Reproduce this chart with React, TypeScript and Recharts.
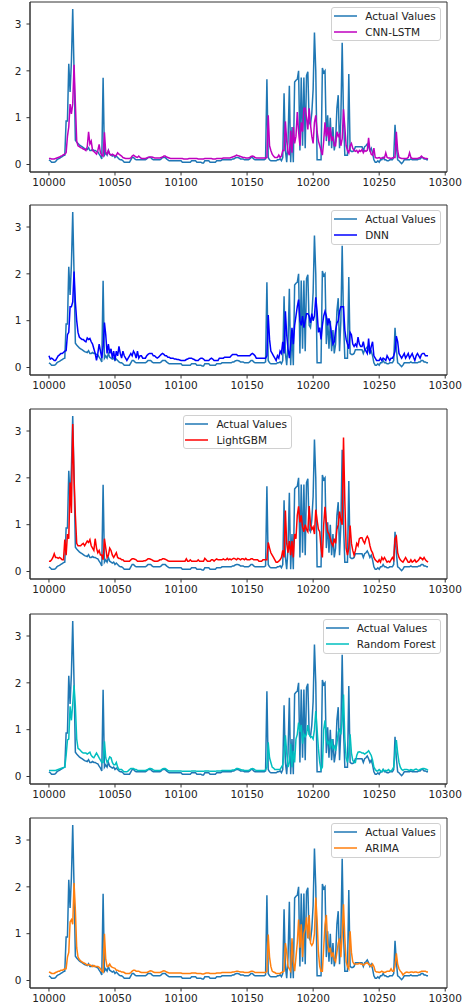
import React from 'react';
import { LineChart, Line, XAxis, YAxis, Legend, ReferenceArea } from 'recharts';

const START = 10000;
const X_TICKS = [10000, 10050, 10100, 10150, 10200, 10250, 10300];
const Y_TICKS = [0, 1, 2, 3];

const ACTUAL = [
  0.10, 0.08, 0.05, 0.05, 0.05, 0.06, 0.10, 0.12, 0.13, 0.15,
  0.17, 0.19, 0.20, 0.93, 0.93, 2.15, 1.55, 2.20, 3.32, 2.00,
  0.52, 0.48, 0.45, 0.42, 0.40, 0.38, 0.36, 0.34, 0.33, 0.32,
  0.36, 0.30, 0.30, 0.32, 0.30, 0.30, 0.28, 0.27, 0.22, 0.18,
  0.12, 1.85, 0.20, 0.25, 0.20, 0.30, 0.22, 0.20, 0.18, 0.20,
  0.15, 0.18, 0.15, 0.12, 0.10, 0.10, 0.08, 0.05, 0.05, 0.05,
  0.05, 0.05, 0.10, 0.15, 0.15, 0.12, 0.10, 0.10, 0.10, 0.10,
  0.10, 0.10, 0.10, 0.10, 0.12, 0.15, 0.15, 0.15, 0.12, 0.10,
  0.10, 0.10, 0.10, 0.10, 0.10, 0.12, 0.15, 0.15, 0.15, 0.12,
  0.10, 0.08, 0.08, 0.08, 0.08, 0.08, 0.08, 0.08, 0.08, 0.08,
  0.08, 0.05, 0.05, 0.05, 0.05, 0.05, 0.05, 0.05, 0.08, 0.08,
  0.08, 0.08, 0.05, 0.05, 0.05, 0.05, 0.03, 0.03, 0.08, 0.08,
  0.08, 0.08, 0.05, 0.05, 0.05, 0.05, 0.05, 0.08, 0.08, 0.08,
  0.08, 0.10, 0.10, 0.10, 0.10, 0.10, 0.10, 0.10, 0.10, 0.12,
  0.12, 0.14, 0.15, 0.15, 0.14, 0.12, 0.12, 0.12, 0.10, 0.10,
  0.10, 0.10, 0.12, 0.15, 0.15, 0.12, 0.10, 0.10, 0.10, 0.10,
  0.10, 0.10, 0.10, 0.10, 0.12, 1.82, 0.15, 0.10, 0.08, 0.08,
  0.08, 0.08, 0.08, 0.10, 0.10, 0.12, 0.08, 0.15, 1.52, 0.30,
  0.05, 0.50, 1.68, 0.05, 0.80, 0.05, 1.76, 1.80, 1.82, 2.00,
  0.30, 1.86, 0.40, 1.86, 0.35, 1.90, 1.98, 0.90, 0.85, 1.10,
  1.60, 2.82, 2.00, 0.10, 0.10, 0.10, 0.10, 2.06, 1.96, 2.00,
  0.50, 1.05, 0.40, 1.00, 0.35, 0.80, 0.30, 0.50, 1.20, 1.48,
  0.35, 1.00, 2.60, 1.00, 0.20, 0.20, 0.20, 1.93, 0.30, 0.28,
  0.28, 0.30, 0.38, 0.38, 0.38, 0.38, 0.38, 0.38, 0.30, 0.38,
  0.40, 0.44, 0.38, 0.30, 0.35, 0.25, 0.10, 0.05, 0.05, 0.08,
  0.05, 0.10, 0.10, 0.15, 0.10, 0.10, 0.08, 0.08, 0.10, 0.10,
  0.10, 0.15, 0.85, 0.40, 0.10, 0.08, 0.05, 0.02, 0.05, 0.10,
  0.10, 0.10, 0.10, 0.10, 0.12, 0.10, 0.10, 0.10, 0.10, 0.10,
  0.12, 0.12, 0.15, 0.15, 0.12, 0.12, 0.10, 0.10,
];

const CNN_LSTM = [
  0.13, 0.13, 0.12, 0.12, 0.12, 0.13, 0.14, 0.15, 0.16, 0.18,
  0.19, 0.21, 0.22, 0.25, 0.60, 0.80, 1.29, 1.08, 1.30, 2.13,
  1.30, 0.50, 0.40, 0.38, 0.36, 0.35, 0.33, 0.32, 0.30, 0.38,
  0.70, 0.44, 0.50, 0.30, 0.28, 0.25, 0.22, 0.30, 0.43, 0.25,
  0.20, 0.18, 0.69, 0.26, 0.22, 0.30, 0.22, 0.20, 0.22, 0.20,
  0.18, 0.20, 0.25, 0.22, 0.20, 0.18, 0.15, 0.14, 0.13, 0.13,
  0.13, 0.13, 0.14, 0.18, 0.20, 0.18, 0.16, 0.15, 0.18, 0.15,
  0.13, 0.13, 0.13, 0.13, 0.14, 0.15, 0.16, 0.16, 0.16, 0.15,
  0.14, 0.14, 0.14, 0.14, 0.14, 0.15, 0.16, 0.18, 0.18, 0.16,
  0.15, 0.14, 0.13, 0.13, 0.13, 0.13, 0.13, 0.13, 0.13, 0.13,
  0.13, 0.13, 0.12, 0.12, 0.12, 0.12, 0.13, 0.13, 0.13, 0.13,
  0.13, 0.13, 0.13, 0.12, 0.12, 0.12, 0.12, 0.12, 0.13, 0.13,
  0.13, 0.13, 0.13, 0.13, 0.12, 0.12, 0.12, 0.13, 0.13, 0.13,
  0.13, 0.13, 0.14, 0.14, 0.14, 0.14, 0.14, 0.14, 0.15, 0.16,
  0.17, 0.18, 0.20, 0.19, 0.18, 0.17, 0.16, 0.15, 0.15, 0.14,
  0.14, 0.14, 0.15, 0.17, 0.18, 0.17, 0.15, 0.14, 0.14, 0.14,
  0.14, 0.14, 0.14, 0.14, 0.14, 0.15, 1.05, 0.40, 0.30, 0.22,
  0.18, 0.15, 0.15, 0.15, 0.20, 0.15, 0.18, 0.30, 0.30, 0.92,
  0.50, 0.26, 0.20, 0.72, 0.25, 0.80, 0.45, 0.60, 1.12, 0.70,
  0.40, 0.90, 0.70, 1.20, 1.20, 1.00, 0.75, 1.20, 0.85, 0.60,
  0.45, 0.90, 1.05, 0.70, 0.50, 0.40, 0.30, 0.20, 0.50, 0.90,
  0.60, 0.80, 0.50, 0.80, 0.50, 0.60, 0.40, 0.40, 0.70, 0.60,
  0.65, 0.40, 0.55, 1.18, 0.80, 0.40, 0.30, 0.25, 0.40, 0.45,
  0.35, 0.30, 0.28, 0.30, 0.25, 0.30, 0.28, 0.32, 0.25, 0.30,
  0.28, 0.30, 0.57, 0.30, 0.22, 0.20, 0.35, 0.15, 0.14, 0.14,
  0.15, 0.13, 0.14, 0.15, 0.14, 0.25, 0.15, 0.14, 0.14, 0.13,
  0.14, 0.15, 0.15, 0.70, 0.30, 0.15, 0.14, 0.13, 0.13, 0.13,
  0.13, 0.13, 0.15, 0.25, 0.15, 0.13, 0.13, 0.13, 0.13, 0.13,
  0.14, 0.15, 0.18, 0.15, 0.14, 0.13, 0.13, 0.12,
];

const DNN = [
  0.25, 0.18, 0.20, 0.18, 0.15, 0.15, 0.20, 0.25, 0.27, 0.30,
  0.30, 0.32, 0.35, 0.36, 0.70, 0.75, 1.30, 1.30, 1.40, 2.05,
  1.40, 1.00, 0.75, 0.65, 0.62, 0.60, 0.60, 0.57, 0.55, 0.63,
  0.60, 0.62, 0.55, 0.50, 0.40, 0.30, 0.15, 0.30, 0.50, 0.35,
  0.20, 0.45, 0.96, 0.70, 0.30, 0.50, 0.30, 0.40, 0.20, 0.35,
  0.15, 0.35, 0.25, 0.45, 0.30, 0.20, 0.35, 0.25, 0.20, 0.15,
  0.20, 0.25, 0.30, 0.25, 0.35, 0.30, 0.20, 0.35, 0.20, 0.25,
  0.25, 0.20, 0.20, 0.20, 0.25, 0.28, 0.30, 0.30, 0.30, 0.25,
  0.25, 0.22, 0.20, 0.22, 0.25, 0.28, 0.30, 0.28, 0.25, 0.25,
  0.22, 0.22, 0.20, 0.20, 0.20, 0.18, 0.18, 0.17, 0.17, 0.16,
  0.15, 0.15, 0.15, 0.15, 0.17, 0.18, 0.20, 0.20, 0.20, 0.18,
  0.17, 0.15, 0.15, 0.15, 0.18, 0.20, 0.20, 0.18, 0.15, 0.15,
  0.15, 0.15, 0.18, 0.20, 0.18, 0.15, 0.15, 0.15, 0.15, 0.20,
  0.20, 0.20, 0.20, 0.22, 0.22, 0.22, 0.22, 0.22, 0.25, 0.28,
  0.28, 0.28, 0.28, 0.25, 0.25, 0.25, 0.25, 0.25, 0.25, 0.25,
  0.25, 0.25, 0.25, 0.28, 0.30, 0.28, 0.25, 0.20, 0.20, 0.20,
  0.20, 0.20, 0.20, 0.20, 0.20, 0.25, 1.12, 0.60, 0.35, 0.30,
  0.25, 0.20, 0.15, 0.25, 0.20, 0.35, 0.30, 0.55, 0.30, 1.20,
  0.70, 0.40, 0.20, 0.50, 0.85, 0.50, 0.90, 1.10, 1.30, 1.45,
  1.00, 0.90, 1.10, 0.85, 1.00, 1.15, 1.15, 1.10, 0.95, 1.15,
  1.00, 1.10, 1.50, 1.20, 0.75, 0.85, 0.60, 0.90, 1.10, 1.20,
  1.10, 0.90, 1.05, 0.90, 0.70, 0.50, 0.55, 0.80, 0.95, 1.00,
  1.20, 1.30, 1.30, 1.30, 0.80, 0.60, 0.50, 0.40, 0.75, 0.70,
  0.50, 0.45, 0.50, 0.45, 0.65, 0.50, 0.45, 0.45, 0.55, 0.40,
  0.35, 0.30, 0.62, 0.30, 0.45, 0.55, 0.25, 0.20, 0.15, 0.15,
  0.15, 0.20, 0.15, 0.20, 0.18, 0.15, 0.25, 0.20, 0.15, 0.20,
  0.20, 0.25, 0.35, 0.67, 0.55, 0.30, 0.25, 0.20, 0.25, 0.30,
  0.20, 0.25, 0.30, 0.20, 0.25, 0.30, 0.22, 0.15, 0.25, 0.30,
  0.25, 0.20, 0.28, 0.30, 0.30, 0.25, 0.25, 0.25,
];

const LIGHTGBM = [
  0.22, 0.22, 0.25, 0.30, 0.38, 0.30, 0.30, 0.28, 0.30, 0.28,
  0.25, 0.25, 0.68, 0.35, 0.80, 0.70, 1.90, 1.25, 3.15, 2.00,
  1.20, 0.60, 0.55, 0.55, 0.55, 0.58, 0.60, 0.55, 0.60, 0.65,
  0.62, 0.68, 0.55, 0.50, 0.45, 0.70, 0.50, 0.40, 0.45, 0.35,
  0.35, 0.25, 0.70, 0.50, 0.30, 0.35, 0.50, 0.45, 0.35, 0.30,
  0.35, 0.40, 0.30, 0.28, 0.28, 0.25, 0.25, 0.22, 0.22, 0.22,
  0.22, 0.22, 0.25, 0.27, 0.27, 0.26, 0.25, 0.22, 0.22, 0.22,
  0.22, 0.22, 0.23, 0.23, 0.25, 0.27, 0.27, 0.26, 0.25, 0.23,
  0.22, 0.22, 0.22, 0.23, 0.25, 0.25, 0.27, 0.27, 0.26, 0.25,
  0.23, 0.22, 0.22, 0.22, 0.22, 0.22, 0.22, 0.22, 0.22, 0.22,
  0.22, 0.22, 0.22, 0.22, 0.27, 0.22, 0.22, 0.25, 0.22, 0.22,
  0.22, 0.22, 0.22, 0.25, 0.22, 0.22, 0.22, 0.22, 0.28, 0.25,
  0.22, 0.22, 0.22, 0.25, 0.25, 0.22, 0.25, 0.27, 0.25, 0.25,
  0.25, 0.25, 0.27, 0.25, 0.25, 0.28, 0.25, 0.27, 0.25, 0.27,
  0.28, 0.27, 0.25, 0.28, 0.27, 0.25, 0.27, 0.27, 0.25, 0.28,
  0.25, 0.25, 0.25, 0.27, 0.27, 0.25, 0.25, 0.25, 0.25, 0.22,
  0.22, 0.22, 0.25, 0.25, 0.25, 0.25, 0.62, 0.50, 0.40, 0.35,
  0.30, 0.25, 0.20, 0.20, 0.22, 0.25, 0.30, 0.45, 0.30, 1.30,
  0.60, 0.40, 0.65, 0.35, 0.65, 0.30, 0.80, 0.70, 1.20, 1.39,
  1.05, 1.20, 0.95, 0.85, 1.00, 0.90, 0.85, 1.40, 1.00, 0.90,
  0.95, 0.80, 1.32, 1.10, 0.90, 0.85, 0.50, 0.30, 1.00, 1.38,
  1.05, 0.85, 0.80, 0.70, 0.60, 0.55, 0.70, 0.60, 0.90, 1.00,
  1.28, 1.10, 1.00, 2.86, 1.50, 0.50, 0.35, 0.50, 0.98, 0.60,
  0.45, 0.35, 0.45, 0.60, 0.55, 0.70, 0.72, 0.72, 0.65, 0.60,
  0.70, 0.75, 0.70, 0.55, 0.45, 0.40, 0.30, 0.25, 0.22, 0.20,
  0.25, 0.20, 0.30, 0.25, 0.30, 0.25, 0.20, 0.22, 0.20, 0.25,
  0.30, 0.25, 0.70, 0.75, 0.40, 0.30, 0.25, 0.22, 0.20, 0.25,
  0.30, 0.25, 0.20, 0.20, 0.25, 0.20, 0.22, 0.25, 0.20, 0.22,
  0.25, 0.30, 0.28, 0.25, 0.30, 0.25, 0.22, 0.20,
];

const RANDOM_FOREST = [
  0.13, 0.13, 0.13, 0.13, 0.13, 0.13, 0.14, 0.15, 0.16, 0.17,
  0.18, 0.19, 0.20, 0.45, 0.78, 0.80, 1.50, 1.20, 1.55, 1.95,
  1.50, 0.80, 0.60, 0.58, 0.55, 0.52, 0.50, 0.50, 0.50, 0.48,
  0.50, 0.52, 0.45, 0.42, 0.40, 0.45, 0.50, 0.45, 0.40, 0.35,
  0.30, 0.30, 0.75, 0.40, 0.30, 0.35, 0.42, 0.40, 0.30, 0.25,
  0.25, 0.30, 0.20, 0.15, 0.15, 0.15, 0.12, 0.10, 0.10, 0.10,
  0.12, 0.15, 0.17, 0.17, 0.17, 0.15, 0.15, 0.13, 0.13, 0.13,
  0.13, 0.13, 0.13, 0.13, 0.14, 0.15, 0.17, 0.17, 0.16, 0.14,
  0.13, 0.13, 0.13, 0.13, 0.13, 0.14, 0.16, 0.17, 0.17, 0.15,
  0.13, 0.12, 0.12, 0.12, 0.12, 0.12, 0.12, 0.12, 0.12, 0.12,
  0.12, 0.11, 0.11, 0.11, 0.11, 0.11, 0.11, 0.11, 0.12, 0.12,
  0.12, 0.12, 0.11, 0.11, 0.11, 0.11, 0.11, 0.11, 0.12, 0.12,
  0.12, 0.12, 0.11, 0.11, 0.11, 0.11, 0.11, 0.12, 0.12, 0.12,
  0.12, 0.13, 0.13, 0.13, 0.13, 0.13, 0.13, 0.13, 0.13, 0.14,
  0.14, 0.15, 0.17, 0.17, 0.16, 0.15, 0.14, 0.14, 0.13, 0.13,
  0.13, 0.13, 0.14, 0.16, 0.17, 0.16, 0.14, 0.13, 0.13, 0.13,
  0.13, 0.13, 0.13, 0.13, 0.14, 0.20, 0.73, 0.40, 0.30, 0.20,
  0.18, 0.15, 0.15, 0.15, 0.15, 0.15, 0.20, 0.25, 0.50, 0.88,
  0.50, 0.20, 0.30, 0.70, 0.20, 0.55, 0.30, 0.80, 0.90, 1.15,
  0.95, 1.10, 0.70, 0.90, 0.85, 0.90, 1.10, 0.90, 0.85, 0.85,
  0.80, 1.00, 1.40, 1.00, 0.60, 0.30, 0.15, 0.20, 1.00, 1.20,
  0.80, 0.70, 0.75, 0.60, 0.80, 0.60, 0.65, 0.55, 0.70, 0.95,
  1.00, 0.90, 1.20, 1.75, 0.80, 0.40, 0.30, 0.50, 0.90, 0.50,
  0.35, 0.30, 0.30, 0.45, 0.52, 0.53, 0.52, 0.50, 0.50, 0.48,
  0.50, 0.52, 0.55, 0.50, 0.45, 0.35, 0.20, 0.15, 0.12, 0.12,
  0.15, 0.12, 0.10, 0.15, 0.12, 0.13, 0.12, 0.15, 0.12, 0.12,
  0.15, 0.20, 0.50, 0.78, 0.50, 0.30, 0.20, 0.15, 0.13, 0.15,
  0.15, 0.15, 0.14, 0.13, 0.15, 0.14, 0.13, 0.15, 0.16, 0.14,
  0.13, 0.15, 0.16, 0.17, 0.17, 0.16, 0.15, 0.13,
];

const ARIMA = [
  0.18, 0.17, 0.15, 0.15, 0.15, 0.17, 0.18, 0.20, 0.20, 0.22,
  0.22, 0.23, 0.25, 0.25, 0.50, 0.60, 1.25, 1.30, 1.20, 2.08,
  1.50, 0.70, 0.50, 0.45, 0.42, 0.40, 0.38, 0.37, 0.35, 0.33,
  0.34, 0.33, 0.32, 0.30, 0.32, 0.30, 0.30, 0.30, 0.28, 0.25,
  0.20, 0.18, 1.00, 0.45, 0.30, 0.30, 0.35, 0.30, 0.28, 0.27,
  0.26, 0.22, 0.22, 0.20, 0.20, 0.18, 0.18, 0.17, 0.15, 0.15,
  0.15, 0.15, 0.17, 0.20, 0.22, 0.22, 0.20, 0.20, 0.20, 0.18,
  0.17, 0.17, 0.17, 0.17, 0.17, 0.18, 0.20, 0.21, 0.20, 0.18,
  0.17, 0.17, 0.17, 0.17, 0.17, 0.18, 0.20, 0.21, 0.20, 0.18,
  0.17, 0.16, 0.16, 0.16, 0.16, 0.16, 0.16, 0.16, 0.16, 0.16,
  0.16, 0.15, 0.15, 0.15, 0.15, 0.15, 0.15, 0.15, 0.16, 0.16,
  0.16, 0.16, 0.15, 0.15, 0.15, 0.15, 0.14, 0.14, 0.15, 0.16,
  0.16, 0.16, 0.15, 0.15, 0.15, 0.15, 0.15, 0.16, 0.16, 0.16,
  0.16, 0.17, 0.17, 0.17, 0.17, 0.17, 0.17, 0.17, 0.17, 0.18,
  0.18, 0.19, 0.20, 0.20, 0.19, 0.18, 0.18, 0.18, 0.17, 0.17,
  0.17, 0.17, 0.18, 0.20, 0.20, 0.19, 0.17, 0.17, 0.17, 0.17,
  0.17, 0.17, 0.17, 0.17, 0.17, 0.20, 0.98, 0.50, 0.30, 0.20,
  0.18, 0.17, 0.15, 0.15, 0.15, 0.15, 0.17, 0.18, 0.20, 0.80,
  0.60, 0.30, 0.25, 0.20, 0.90, 0.40, 0.20, 0.50, 0.80, 1.30,
  0.70, 1.20, 0.50, 1.00, 1.10, 1.35, 0.90, 1.40, 0.80, 0.75,
  0.80, 1.00, 1.77, 1.30, 0.60, 0.30, 0.20, 0.20, 0.70, 1.20,
  1.40, 0.80, 0.60, 0.70, 0.50, 0.60, 0.45, 0.40, 0.60, 0.80,
  0.90, 0.50, 1.00, 1.63, 0.90, 0.40, 0.30, 0.25, 1.05, 0.60,
  0.40, 0.35, 0.35, 0.35, 0.35, 0.37, 0.35, 0.35, 0.33, 0.35,
  0.37, 0.38, 0.35, 0.33, 0.30, 0.35, 0.30, 0.20, 0.18, 0.18,
  0.17, 0.18, 0.20, 0.18, 0.17, 0.18, 0.20, 0.20, 0.20, 0.25,
  0.20, 0.20, 0.30, 0.58, 0.35, 0.25, 0.20, 0.17, 0.12, 0.15,
  0.17, 0.18, 0.17, 0.17, 0.18, 0.18, 0.17, 0.18, 0.18, 0.17,
  0.17, 0.18, 0.20, 0.20, 0.20, 0.20, 0.18, 0.18,
];

const ACTUAL_NAME = 'Actual Values';
const ACTUAL_COLOR = '#1f77b4';
const MODEL_NAMES = ['CNN-LSTM', 'DNN', 'LightGBM', 'Random Forest', 'ARIMA'];
const MODEL_COLORS = ['#bf00bf', '#0000ff', '#ff0000', '#00bfbf', '#ff7f0e'];
const MODEL_VALUES = [CNN_LSTM, DNN, LIGHTGBM, RANDOM_FOREST, ARIMA];

// layout
const W = 469;
const PLOT_TOPS = [1.7, 205, 409.3, 614.3, 818.3];
const PLOT_H = 170;
const X_DOMAIN: [number, number] = [9985.65, 10301.35];
const Y_DOMAIN: [number, number] = [-0.16, 3.47];
const FONT = '"DejaVu Sans", Verdana, sans-serif';
const AXIS_COLOR = '#333';
const TEXT_COLOR = '#222';

function LegendBox({ name, color }: { name: string; color: string }) {
  const row = (label: string, c: string) => (
    <div style={{ display: 'flex', alignItems: 'center', height: 16 }}>
      <svg width={23} height={16} style={{ display: 'block', marginRight: 8 }}>
        <line x1={0} y1={8} x2={23} y2={8} stroke={c} strokeWidth={1.5} />
      </svg>
      <span style={{ fontSize: 10.5, fontFamily: FONT, color: TEXT_COLOR, whiteSpace: 'nowrap', lineHeight: '16px' }}>{label}</span>
    </div>
  );
  return (
    <div
      style={{
        border: '1px solid #d0d0d0',
        borderRadius: 3,
        background: 'rgba(255,255,255,0.85)',
        padding: '0px 4px 0.5px 1.7px',
        boxSizing: 'border-box',
      }}
    >
      {row(ACTUAL_NAME, ACTUAL_COLOR)}
      {row(name, color)}
    </div>
  );
}

function Panel({ index }: { index: number }) {
  const values = MODEL_VALUES[index];
  const data = ACTUAL.map((a, i) => ({ x: START + i, actual: a, pred: values[i] }));
  const legendStyle: React.CSSProperties =
    index === 2 ? { top: 7.7, left: 182.7, width: 'auto' } : { top: 7, right: 28.3, width: 'auto' };
  return (
    <div style={{ position: 'absolute', left: 0, top: PLOT_TOPS[index] - 2, width: W, height: PLOT_H + 34 }}>
      <LineChart width={W} height={PLOT_H + 34} data={data} margin={{ top: 2, right: 22, bottom: 2, left: 0 }}>
        <XAxis
          type="number"
          dataKey="x"
          domain={X_DOMAIN}
          ticks={X_TICKS}
          interval={0}
          allowDataOverflow
          height={30}
          tickSize={3.5}
          tickMargin={3}
          axisLine={{ stroke: AXIS_COLOR, strokeWidth: 1 }}
          tickLine={{ stroke: AXIS_COLOR, strokeWidth: 1 }}
          tick={{ fontSize: 10.5, fontFamily: FONT, fill: TEXT_COLOR }}
        />
        <YAxis
          type="number"
          domain={Y_DOMAIN}
          ticks={Y_TICKS}
          interval={0}
          allowDataOverflow
          width={30}
          tickSize={3.5}
          tickMargin={5}
          axisLine={{ stroke: AXIS_COLOR, strokeWidth: 1 }}
          tickLine={{ stroke: AXIS_COLOR, strokeWidth: 1 }}
          tick={{ fontSize: 10.5, fontFamily: FONT, fill: TEXT_COLOR }}
        />
        <ReferenceArea
          x1={X_DOMAIN[0]}
          x2={X_DOMAIN[1]}
          y1={Y_DOMAIN[0]}
          y2={Y_DOMAIN[1]}
          fill="none"
          fillOpacity={0}
          stroke={AXIS_COLOR}
          strokeWidth={1}
          ifOverflow="visible"
        />
        <Line
          type="linear"
          dataKey="actual"
          name={ACTUAL_NAME}
          stroke={ACTUAL_COLOR}
          strokeWidth={1.5}
          dot={false}
          activeDot={false}
          isAnimationActive={false}
        />
        <Line
          type="linear"
          dataKey="pred"
          name={MODEL_NAMES[index]}
          stroke={MODEL_COLORS[index]}
          strokeWidth={1.5}
          dot={false}
          activeDot={false}
          isAnimationActive={false}
        />
        <Legend
          layout="vertical"
          align="center"
          verticalAlign="middle"
          wrapperStyle={legendStyle}
          content={() => <LegendBox name={MODEL_NAMES[index]} color={MODEL_COLORS[index]} />}
        />
      </LineChart>
    </div>
  );
}

export default function App() {
  return (
    <div style={{ position: 'absolute', left: 0, top: 0, width: W, height: 1007, background: '#fff', overflow: 'hidden' }}>
      {MODEL_NAMES.map((_, i) => (
        <Panel key={i} index={i} />
      ))}
    </div>
  );
}
